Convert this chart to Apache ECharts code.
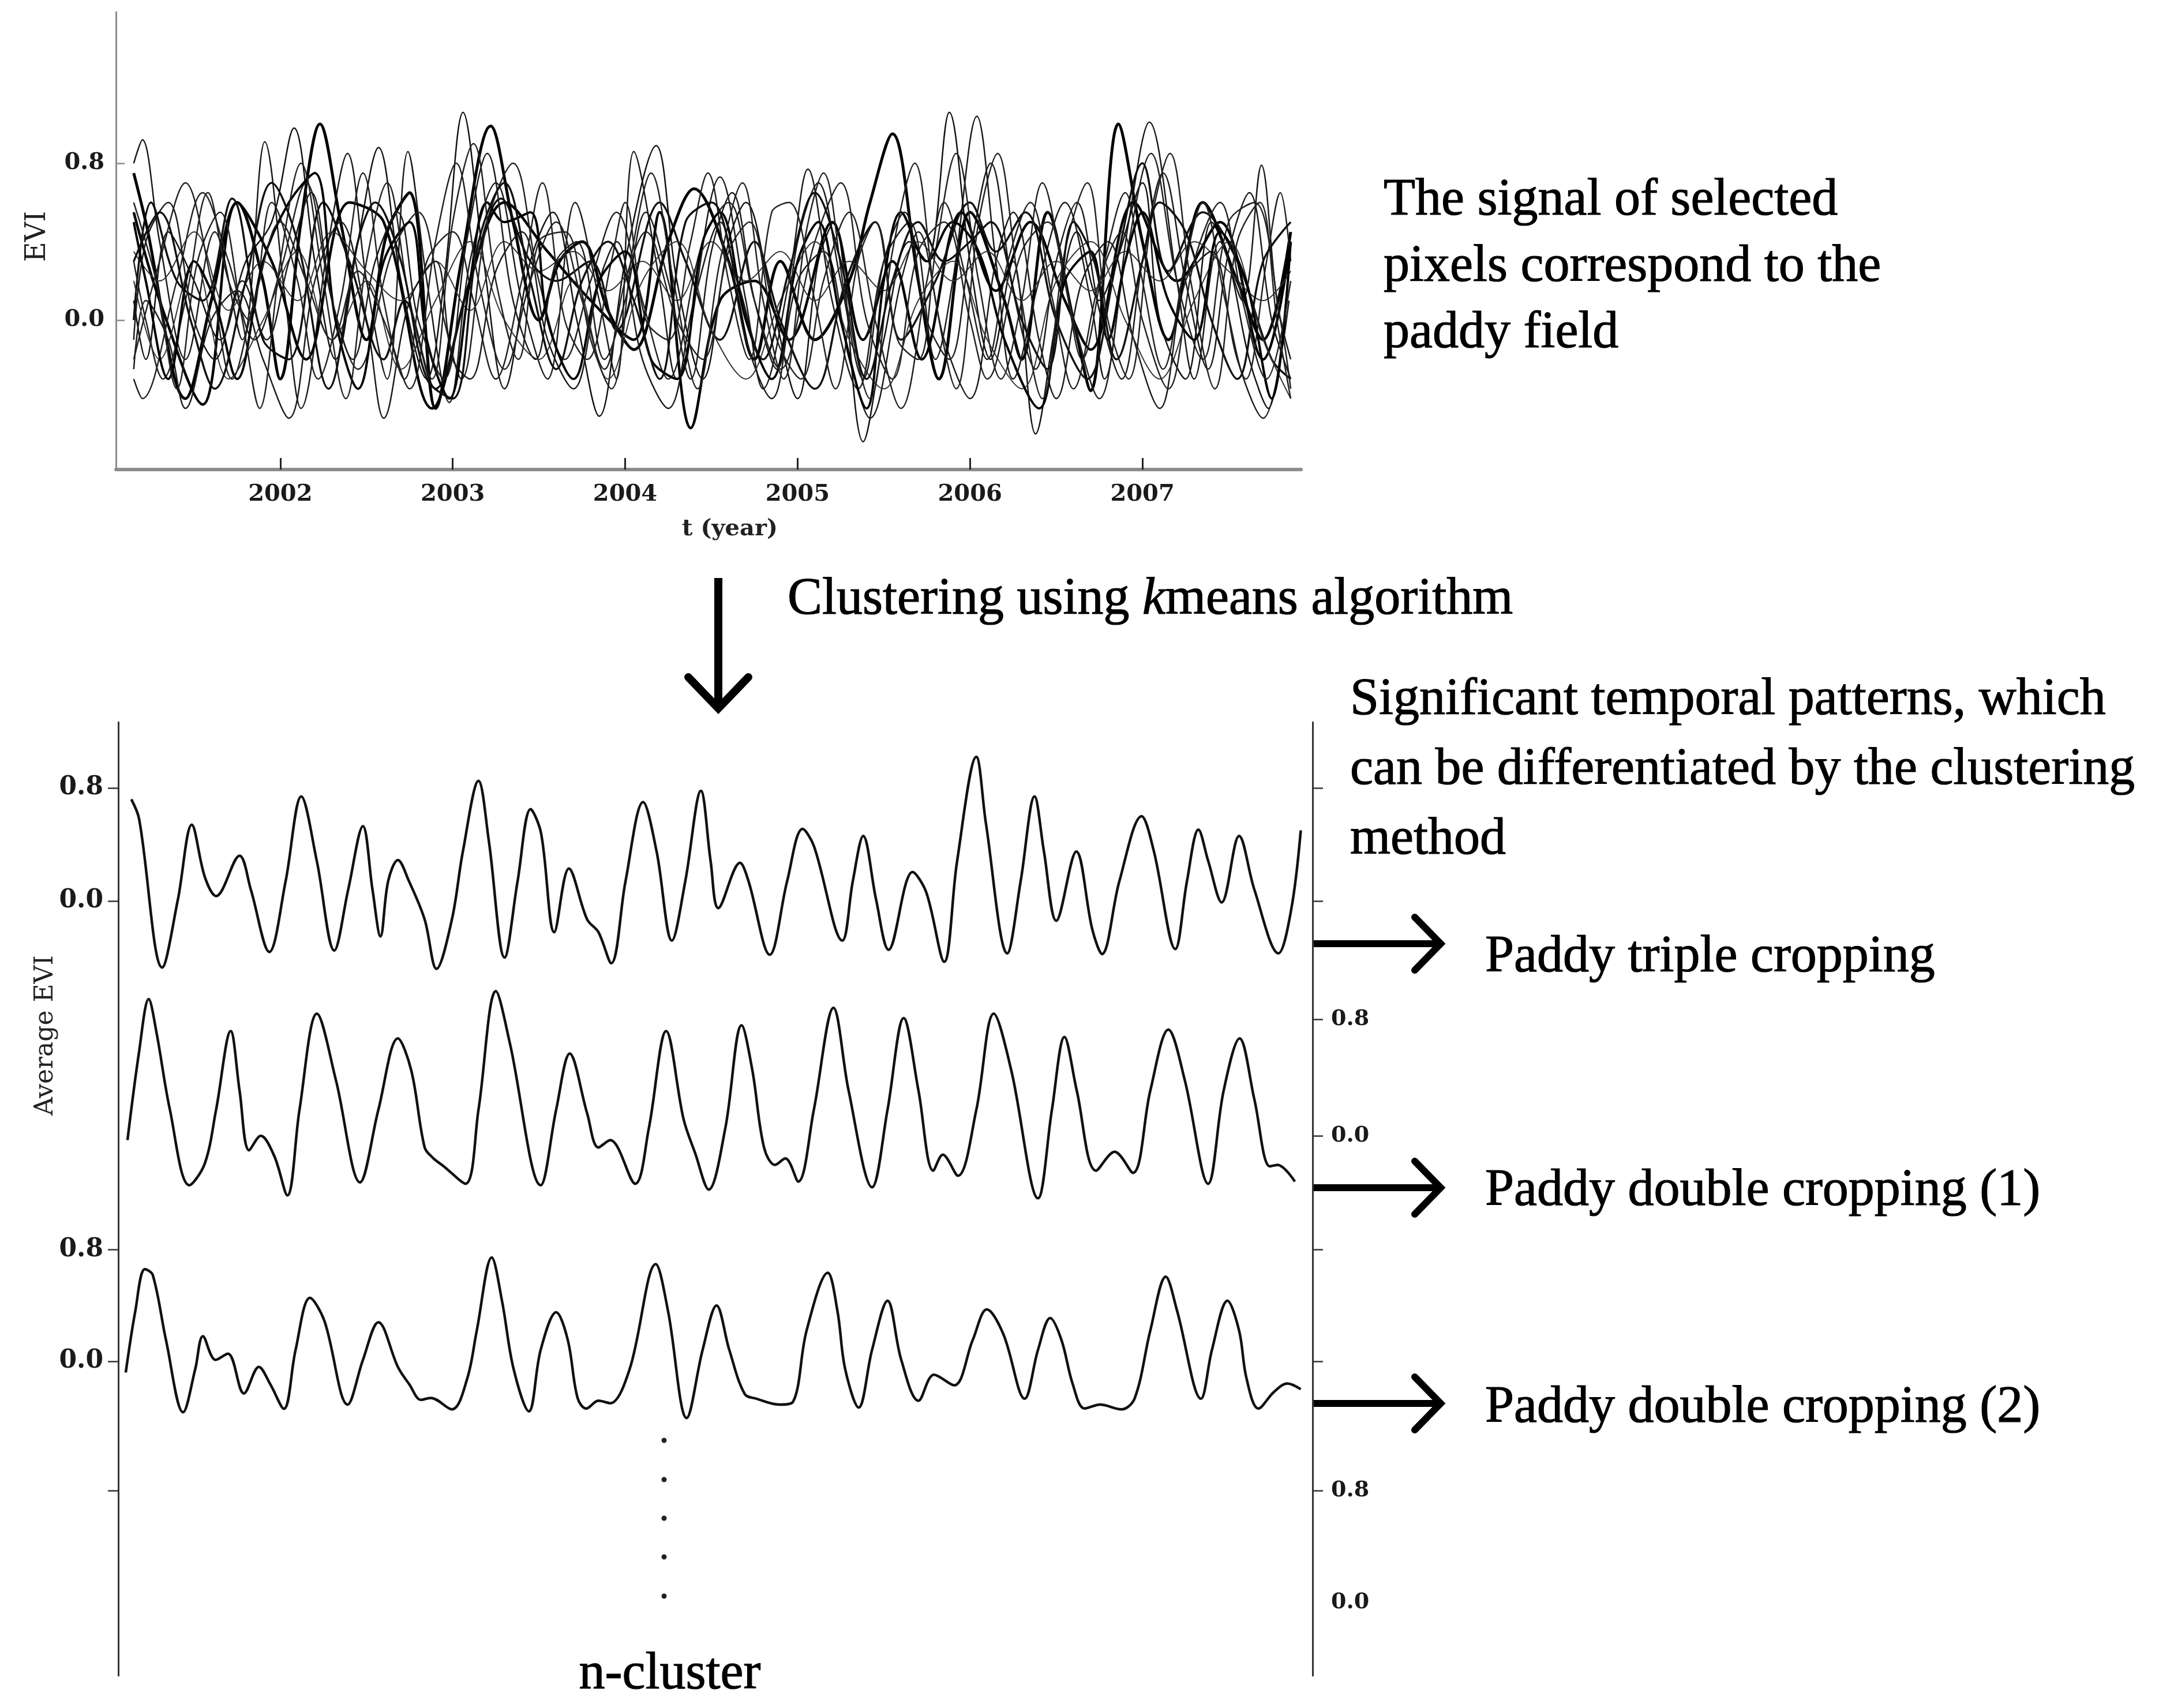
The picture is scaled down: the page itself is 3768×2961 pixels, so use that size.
<!DOCTYPE html>
<html>
<head>
<meta charset="utf-8">
<title>EVI signal and k-means clusters</title>
<script src="https://cdn.jsdelivr.net/npm/echarts@6/dist/echarts.min.js"></script>
<style>
  html, body { margin: 0; padding: 0; background: #fff; }
  #chart { width: 3768px; height: 2961px; }
</style>
</head>
<body>
<div id="chart"></div>
<script>
// tick values
var yearTicks = [2002, 2003, 2004, 2005, 2006, 2007];
var eviTicks = [0, 0.8];

// EVI signal of the selected paddy pixels, [year, EVI]
var pixelA = [[2001.15,0.75],[2001.22,0.5],[2001.45,-0.4],[2001.6,0.1],[2001.75,0.6],[2001.9,0.2],[2002.0,-0.3],[2002.12,0.5],[2002.23,1.0],[2002.35,0.5],[2002.5,-0.1],[2002.62,0.45],[2002.75,0.65],[2002.9,-0.45],[2003.05,0.3],[2003.22,0.99],[2003.35,0.5],[2003.5,0.0],[2003.62,0.3],[2003.75,0.4],[2003.9,0.05],[2004.05,-0.15],[2004.25,0.4],[2004.4,0.67],[2004.6,0.3],[2004.75,-0.2],[2004.9,0.3],[2005.1,-0.1],[2005.3,0.2],[2005.42,0.6],[2005.55,0.95],[2005.7,0.2],[2005.82,-0.3],[2006.0,0.55],[2006.2,0.1],[2006.3,-0.2],[2006.45,0.55],[2006.6,0.0],[2006.7,-0.36],[2006.86,1.0],[2007.0,0.4],[2007.15,-0.1],[2007.35,0.6],[2007.55,0.2],[2007.7,-0.1],[2007.86,0.45]];
var pixelB = [[2001.15,0.8],[2001.2,0.92],[2001.3,0.4],[2001.45,-0.2],[2001.62,0.45],[2001.78,-0.1],[2001.91,0.91],[2002.03,0.1],[2002.12,-0.45],[2002.28,0.4],[2002.39,0.85],[2002.5,0.2],[2002.62,-0.3],[2002.74,0.86],[2002.85,0.2],[2002.98,-0.42],[2003.1,0.3],[2003.25,0.7],[2003.4,0.1],[2003.55,-0.3],[2003.71,0.6],[2003.85,0.1],[2003.95,-0.3],[2004.05,0.86],[2004.2,0.2],[2004.3,-0.3],[2004.55,0.73],[2004.7,0.1],[2004.8,-0.35],[2004.95,0.2],[2005.06,0.77],[2005.2,0.1],[2005.35,-0.35],[2005.5,0.3],[2005.65,0.5],[2005.8,-0.2],[2005.9,0.2],[2006.04,1.04],[2006.15,0.3],[2006.25,-0.3],[2006.4,0.2],[2006.55,0.6],[2006.7,0.1],[2006.78,-0.3],[2006.92,0.5],[2007.04,1.01],[2007.2,0.2],[2007.3,-0.3],[2007.45,0.4],[2007.58,0.1],[2007.69,0.79],[2007.78,0.1],[2007.86,-0.2]];
var pixelC = [[2001.15,0.1],[2001.22,-0.2],[2001.35,0.45],[2001.5,0.2],[2001.65,-0.1],[2001.8,0.3],[2001.95,0.5],[2002.08,0.98],[2002.2,0.3],[2002.32,-0.2],[2002.45,0.4],[2002.57,0.88],[2002.7,0.2],[2002.85,-0.3],[2002.95,0.2],[2003.06,1.06],[2003.18,0.3],[2003.3,-0.35],[2003.45,0.3],[2003.58,0.55],[2003.72,0.0],[2003.85,-0.49],[2004.0,0.3],[2004.18,0.89],[2004.3,0.2],[2004.45,-0.3],[2004.6,0.4],[2004.7,0.6],[2004.85,0.1],[2005.0,-0.4],[2005.12,0.3],[2005.21,0.5],[2005.38,-0.62],[2005.5,-0.1],[2005.65,0.4],[2005.75,0.3],[2005.88,1.06],[2006.0,0.3],[2006.12,-0.2],[2006.25,0.3],[2006.38,-0.58],[2006.5,0.0],[2006.62,0.45],[2006.75,0.1],[2006.85,0.3],[2007.0,0.7],[2007.1,0.0],[2007.25,-0.3],[2007.4,0.5],[2007.5,0.3],[2007.62,-0.2],[2007.73,-0.45],[2007.85,0.3]];
var pixelD = [[2001.15,0.55],[2001.3,0.1],[2001.55,-0.43],[2001.75,0.6],[2001.95,0.3],[2002.15,-0.2],[2002.4,0.6],[2002.6,0.5],[2002.88,-0.45],[2003.1,0.2],[2003.3,0.6],[2003.55,0.35],[2003.8,0.1],[2004.05,-0.1],[2004.2,0.55],[2004.38,-0.55],[2004.55,0.1],[2004.75,0.2],[2004.95,-0.1],[2005.2,0.5],[2005.38,-0.1],[2005.55,0.3],[2005.72,-0.2],[2005.95,0.55],[2006.15,0.15],[2006.35,0.5],[2006.55,0.1],[2006.7,-0.15],[2006.95,0.6],[2007.2,0.2],[2007.45,0.5],[2007.7,-0.2],[2007.86,0.4]];
var pixelE = [[2001.15,-0.3],[2001.2,-0.4],[2001.4,0.2],[2001.55,0.65],[2001.7,0.3],[2001.85,-0.1],[2002.0,0.25],[2002.15,0.7],[2002.3,0.1],[2002.45,-0.25],[2002.65,0.35],[2002.8,0.55],[2002.95,0.0],[2003.05,-0.3],[2003.2,0.5],[2003.35,0.8],[2003.5,0.2],[2003.65,-0.2],[2003.8,0.2],[2003.95,0.55],[2004.1,0.1],[2004.25,-0.3],[2004.45,0.4],[2004.6,0.6],[2004.75,0.1],[2004.9,-0.25],[2005.1,0.4],[2005.25,0.7],[2005.4,0.0],[2005.55,-0.3],[2005.7,0.35],[2005.85,0.5],[2006.0,0.0],[2006.1,-0.3],[2006.3,0.35],[2006.45,0.5],[2006.6,0.0],[2006.75,-0.4],[2006.9,0.3],[2007.05,0.85],[2007.2,0.2],[2007.35,-0.2],[2007.5,0.5],[2007.65,0.6],[2007.8,0.0],[2007.86,-0.35]];
var pixelF = [[2001.15,0.35],[2001.3,0.2],[2001.5,0.45],[2001.7,0.05],[2001.9,0.3],[2002.1,0.1],[2002.3,0.45],[2002.5,0.25],[2002.7,0.1],[2002.9,0.3],[2003.1,0.05],[2003.3,0.4],[2003.5,0.25],[2003.7,0.35],[2003.9,0.15],[2004.1,0.3],[2004.3,0.1],[2004.5,0.4],[2004.7,0.2],[2004.9,0.35],[2005.1,0.1],[2005.3,0.3],[2005.5,0.15],[2005.7,0.4],[2005.9,0.2],[2006.1,0.35],[2006.3,0.1],[2006.5,0.3],[2006.7,0.15],[2006.9,0.35],[2007.1,0.2],[2007.3,0.4],[2007.5,0.25],[2007.7,0.1],[2007.86,0.25]];
var pixelG = [[2001.15,-0.25],[2001.22,0.1],[2001.35,-0.1],[2001.45,-0.45],[2001.6,0.0],[2001.75,0.15],[2001.9,-0.2],[2002.05,-0.5],[2002.2,0.2],[2002.35,0.5],[2002.5,0.0],[2002.6,-0.5],[2002.75,0.1],[2002.9,0.3],[2003.0,-0.2],[2003.1,-0.3],[2003.25,0.25],[2003.4,0.45],[2003.55,-0.1],[2003.7,-0.35],[2003.85,0.2],[2003.95,0.4],[2004.1,-0.2],[2004.25,-0.45],[2004.4,0.1],[2004.55,0.5],[2004.7,-0.1],[2004.85,-0.4],[2005.0,0.2],[2005.15,0.35],[2005.3,-0.2],[2005.42,-0.5],[2005.6,0.2],[2005.7,0.45],[2005.85,-0.1],[2006.0,-0.4],[2006.15,0.3],[2006.25,0.55],[2006.4,-0.1],[2006.5,-0.4],[2006.65,0.2],[2006.8,0.4],[2006.95,-0.1],[2007.1,-0.45],[2007.25,0.2],[2007.4,0.35],[2007.55,-0.2],[2007.7,-0.5],[2007.85,0.1]];
var pixelH = [[2001.15,0.0],[2001.25,0.6],[2001.4,0.2],[2001.55,0.1],[2001.72,0.62],[2001.9,-0.1],[2002.05,-0.2],[2002.25,0.6],[2002.4,0.3],[2002.6,-0.2],[2002.72,0.1],[2002.9,-0.35],[2003.1,0.2],[2003.28,0.62],[2003.45,0.3],[2003.6,0.2],[2003.8,0.3],[2003.95,-0.05],[2004.2,0.6],[2004.35,0.3],[2004.55,-0.1],[2004.75,0.4],[2004.9,0.0],[2005.1,-0.35],[2005.28,0.2],[2005.45,0.5],[2005.6,-0.1],[2005.8,0.2],[2006.0,0.6],[2006.15,0.35],[2006.32,0.55],[2006.5,0.0],[2006.68,-0.3],[2006.85,0.3],[2007.0,0.8],[2007.15,0.25],[2007.35,0.55],[2007.55,0.3],[2007.75,-0.2],[2007.86,-0.3]];
var pixelI = [[2001.15,0.3],[2001.22,0.0],[2001.32,-0.3],[2001.45,0.1],[2001.58,0.65],[2001.7,0.2],[2001.82,0.0],[2001.95,0.6],[2002.1,0.2],[2002.22,-0.3],[2002.35,0.1],[2002.48,0.75],[2002.6,0.1],[2002.72,-0.3],[2002.85,0.3],[2003.0,0.45],[2003.12,0.1],[2003.25,-0.3],[2003.4,0.2],[2003.52,0.7],[2003.65,0.0],[2003.78,-0.2],[2003.92,0.3],[2004.0,0.6],[2004.12,0.0],[2004.25,-0.1],[2004.38,0.4],[2004.48,0.75],[2004.6,0.2],[2004.72,-0.2],[2004.85,0.55],[2004.95,0.6],[2005.1,0.1],[2005.22,-0.35],[2005.35,0.3],[2005.45,0.5],[2005.58,-0.1],[2005.7,-0.2],[2005.8,0.35],[2005.92,0.85],[2006.05,0.2],[2006.18,-0.3],[2006.3,0.1],[2006.42,0.7],[2006.55,0.2],[2006.65,-0.2],[2006.78,0.3],[2006.9,0.65],[2007.0,0.2],[2007.12,-0.25],[2007.25,0.3],[2007.35,0.6],[2007.48,0.1],[2007.6,-0.3],[2007.72,0.3],[2007.8,0.65],[2007.86,0.3]];
var pixelJ = [[2001.15,0.2],[2001.3,-0.2],[2001.5,0.3],[2001.7,-0.3],[2001.9,0.0],[2002.1,0.35],[2002.3,-0.1],[2002.5,0.2],[2002.7,-0.25],[2002.9,0.1],[2003.1,0.4],[2003.3,0.0],[2003.5,-0.2],[2003.7,0.2],[2003.9,-0.3],[2004.1,0.2],[2004.3,0.4],[2004.5,-0.05],[2004.7,-0.3],[2004.9,0.1],[2005.1,0.4],[2005.3,-0.1],[2005.5,-0.35],[2005.7,0.1],[2005.9,0.3],[2006.1,-0.1],[2006.3,-0.35],[2006.5,0.2],[2006.7,0.4],[2006.9,0.0],[2007.1,-0.3],[2007.3,0.1],[2007.5,0.4],[2007.7,-0.1],[2007.86,-0.4]];
var pixelK = [[2001.15,0.5],[2001.22,0.2],[2001.35,-0.3],[2001.5,0.3],[2001.62,0.1],[2001.75,-0.3],[2001.9,0.3],[2002.05,0.6],[2002.2,0.75],[2002.32,0.0],[2002.45,-0.35],[2002.6,0.3],[2002.75,0.5],[2002.85,-0.1],[2002.98,-0.4],[2003.1,0.2],[2003.2,0.6],[2003.3,0.5],[2003.45,0.55],[2003.55,0.0],[2003.7,-0.3],[2003.85,0.2],[2004.0,0.35],[2004.15,-0.2],[2004.3,-0.3],[2004.45,0.4],[2004.55,0.55],[2004.7,0.0],[2004.85,-0.3],[2005.0,0.3],[2005.12,0.5],[2005.25,0.0],[2005.4,-0.45],[2005.5,0.2],[2005.6,0.55],[2005.75,0.3],[2005.9,0.5],[2006.05,0.35],[2006.2,-0.1],[2006.4,-0.45],[2006.55,0.2],[2006.7,0.35],[2006.8,-0.1],[2006.9,0.3],[2007.0,0.55],[2007.15,0.1],[2007.3,-0.1],[2007.45,0.45],[2007.6,0.2],[2007.75,-0.4],[2007.86,0.4]];
var pixelL = [[2001.15,-0.1],[2001.22,0.4],[2001.35,0.6],[2001.5,0.0],[2001.62,-0.2],[2001.78,0.2],[2001.92,-0.1],[2002.05,0.3],[2002.18,0.65],[2002.3,0.1],[2002.42,-0.2],[2002.55,0.3],[2002.68,0.55],[2002.8,0.0],[2002.95,-0.3],[2003.08,0.4],[2003.2,0.85],[2003.35,0.1],[2003.48,-0.2],[2003.6,0.3],[2003.72,0.4],[2003.88,-0.2],[2004.0,0.1],[2004.12,0.55],[2004.25,0.2],[2004.38,-0.3],[2004.5,0.35],[2004.62,0.65],[2004.75,0.1],[2004.88,-0.25],[2005.0,0.4],[2005.12,0.7],[2005.25,0.2],[2005.38,-0.3],[2005.5,0.3],[2005.62,0.55],[2005.75,0.0],[2005.88,-0.2],[2006.0,0.35],[2006.12,0.8],[2006.25,0.15],[2006.38,-0.25],[2006.5,0.3],[2006.62,0.6],[2006.75,0.05],[2006.88,-0.3],[2007.0,0.3],[2007.12,0.75],[2007.25,0.2],[2007.38,-0.25],[2007.5,0.35],[2007.62,0.65],[2007.75,0.0],[2007.86,-0.3]];
var pixelM = [[2001.15,0.6],[2001.28,0.2],[2001.4,-0.35],[2001.52,0.3],[2001.65,0.55],[2001.78,0.0],[2001.88,-0.45],[2002.0,0.3],[2002.12,0.8],[2002.25,0.2],[2002.38,-0.4],[2002.5,0.3],[2002.62,0.7],[2002.75,0.1],[2002.88,-0.3],[2003.0,0.5],[2003.12,0.9],[2003.25,0.2],[2003.38,-0.2],[2003.5,0.4],[2003.65,0.45],[2003.8,-0.1],[2003.92,-0.35],[2004.05,0.4],[2004.15,0.75],[2004.28,0.2],[2004.42,-0.35],[2004.55,0.3],[2004.68,0.7],[2004.8,0.1],[2004.92,-0.3],[2005.05,0.45],[2005.15,0.75],[2005.28,0.1],[2005.42,-0.4],[2005.55,0.35],[2005.68,0.8],[2005.8,0.1],[2005.92,-0.35],[2006.05,0.5],[2006.16,0.85],[2006.28,0.2],[2006.42,-0.4],[2006.55,0.35],[2006.68,0.7],[2006.8,0.0],[2006.92,-0.3],[2007.05,0.5],[2007.16,0.85],[2007.28,0.2],[2007.42,-0.35],[2007.55,0.4],[2007.68,0.6],[2007.78,0.0],[2007.86,-0.4]];
var pixelN = [[2001.15,0.3],[2001.3,0.55],[2001.48,0.0],[2001.62,-0.35],[2001.8,0.2],[2001.95,0.7],[2002.1,0.4],[2002.28,-0.35],[2002.45,0.4],[2002.55,0.6],[2002.7,0.3],[2002.85,-0.3],[2003.0,-0.4],[2003.15,0.4],[2003.3,0.7],[2003.45,0.2],[2003.6,-0.25],[2003.75,0.2],[2003.9,0.4],[2004.05,0.1],[2004.2,-0.3],[2004.35,0.5],[2004.5,0.6],[2004.65,0.2],[2004.8,-0.2],[2004.95,0.25],[2005.1,0.65],[2005.25,0.3],[2005.4,-0.3],[2005.55,0.2],[2005.7,0.5],[2005.85,0.3],[2006.0,0.4],[2006.12,0.5],[2006.3,0.0],[2006.45,-0.25],[2006.6,0.5],[2006.72,0.3],[2006.85,-0.2],[2007.0,0.3],[2007.1,0.6],[2007.25,0.45],[2007.4,0.0],[2007.55,-0.3],[2007.7,0.3],[2007.86,0.5]];
var pixelO = [[2001.15,-0.2],[2001.3,0.3],[2001.45,0.7],[2001.6,0.2],[2001.72,-0.3],[2001.85,0.1],[2002.0,0.5],[2002.15,0.2],[2002.3,-0.1],[2002.45,0.25],[2002.6,0.0],[2002.75,-0.35],[2002.9,0.4],[2003.02,0.8],[2003.15,0.2],[2003.3,-0.25],[2003.45,0.2],[2003.6,0.5],[2003.75,0.1],[2003.88,-0.25],[2004.0,0.2],[2004.12,0.45],[2004.3,0.0],[2004.45,-0.2],[2004.6,0.35],[2004.72,0.5],[2004.88,-0.1],[2005.02,-0.3],[2005.15,0.2],[2005.3,0.55],[2005.45,0.0],[2005.6,-0.45],[2005.75,0.2],[2005.85,0.6],[2005.98,0.2],[2006.1,-0.2],[2006.22,0.3],[2006.35,0.6],[2006.48,0.1],[2006.6,-0.35],[2006.75,0.2],[2006.88,0.45],[2007.0,0.0],[2007.15,-0.35],[2007.3,0.3],[2007.45,0.6],[2007.58,0.1],[2007.72,-0.3],[2007.86,0.2]];

// average EVI of each cluster, [year, EVI]
var tripleCropping = [[2001.122,0.72],[2001.167,0.58],[2001.30,-0.47],[2001.39,0.01],[2001.47,0.54],[2001.545,0.17],[2001.61,0.035],[2001.745,0.32],[2001.81,0.08],[2001.916,-0.36],[2002.01,0.14],[2002.10,0.74],[2002.19,0.28],[2002.29,-0.35],[2002.37,0.08],[2002.455,0.53],[2002.51,0.08],[2002.556,-0.25],[2002.60,0.14],[2002.656,0.29],[2002.72,0.14],[2002.81,-0.13],[2002.878,-0.48],[2002.967,-0.13],[2003.03,0.35],[2003.12,0.85],[2003.18,0.42],[2003.27,-0.40],[2003.345,0.14],[2003.42,0.65],[2003.48,0.48],[2003.556,-0.22],[2003.64,0.23],[2003.745,-0.13],[2003.81,-0.22],[2003.884,-0.44],[2003.966,0.14],[2004.067,0.70],[2004.145,0.35],[2004.233,-0.28],[2004.31,0.14],[2004.40,0.78],[2004.456,0.28],[2004.50,-0.05],[2004.625,0.27],[2004.674,0.14],[2004.796,-0.38],[2004.896,0.14],[2004.985,0.51],[2005.05,0.39],[2005.214,-0.28],[2005.274,0.14],[2005.334,0.46],[2005.408,0.01],[2005.48,-0.345],[2005.618,0.205],[2005.697,0.06],[2005.80,-0.43],[2005.874,0.28],[2005.985,1.02],[2006.04,0.55],[2006.163,-0.37],[2006.24,0.14],[2006.32,0.74],[2006.374,0.35],[2006.445,-0.14],[2006.56,0.35],[2006.652,-0.20],[2006.708,-0.375],[2006.808,0.14],[2006.936,0.60],[2007.007,0.35],[2007.13,-0.34],[2007.197,0.14],[2007.263,0.505],[2007.32,0.28],[2007.397,-0.01],[2007.497,0.46],[2007.585,0.08],[2007.723,-0.37],[2007.797,-0.06],[2007.852,0.50]];
var doubleCropping1 = [[2001.10,-0.03],[2001.167,0.58],[2001.222,0.94],[2001.267,0.71],[2001.344,0.18],[2001.456,-0.34],[2001.545,-0.19],[2001.61,0.18],[2001.694,0.72],[2001.745,0.31],[2001.80,-0.10],[2001.867,0.0],[2001.945,-0.14],[2002.02,-0.41],[2002.09,0.18],[2002.19,0.84],[2002.30,0.38],[2002.438,-0.32],[2002.544,0.18],[2002.656,0.67],[2002.733,0.45],[2002.81,-0.08],[2002.856,-0.15],[2002.92,-0.21],[2003.045,-0.33],[2003.12,0.18],[2003.22,0.995],[2003.30,0.64],[2003.478,-0.34],[2003.567,0.18],[2003.645,0.565],[2003.745,0.155],[2003.81,-0.08],[2003.878,-0.03],[2004.022,-0.33],[2004.10,0.05],[2004.20,0.72],[2004.30,0.115],[2004.367,-0.12],[2004.445,-0.37],[2004.54,0.05],[2004.634,0.76],[2004.696,0.45],[2004.763,-0.08],[2004.826,-0.20],[2004.886,-0.156],[2004.96,-0.315],[2005.05,0.18],[2005.163,0.88],[2005.25,0.31],[2005.385,-0.354],[2005.474,0.18],[2005.567,0.81],[2005.652,0.31],[2005.737,-0.24],[2005.792,-0.13],[2005.879,-0.275],[2005.985,0.18],[2006.085,0.84],[2006.186,0.45],[2006.34,-0.43],[2006.42,0.18],[2006.492,0.68],[2006.563,0.31],[2006.674,-0.24],[2006.781,-0.11],[2006.886,-0.255],[2006.986,0.31],[2007.09,0.73],[2007.185,0.38],[2007.319,-0.33],[2007.408,0.31],[2007.50,0.67],[2007.585,0.25],[2007.674,-0.21],[2007.718,-0.20],[2007.818,-0.315]];
var doubleCropping2 = [[2001.09,-0.08],[2001.145,0.36],[2001.20,0.66],[2001.245,0.62],[2001.322,0.15],[2001.42,-0.365],[2001.49,-0.055],[2001.534,0.18],[2001.607,0.01],[2001.678,0.055],[2001.77,-0.23],[2001.856,-0.04],[2001.922,-0.165],[2002.0,-0.34],[2002.067,0.08],[2002.15,0.455],[2002.233,0.29],[2002.367,-0.31],[2002.455,0.01],[2002.544,0.28],[2002.656,-0.04],[2002.722,-0.165],[2002.789,-0.276],[2002.845,-0.262],[2002.967,-0.344],[2003.055,-0.124],[2003.11,0.22],[2003.196,0.744],[2003.256,0.427],[2003.322,-0.055],[2003.41,-0.358],[2003.478,0.083],[2003.567,0.351],[2003.634,0.152],[2003.69,-0.262],[2003.74,-0.338],[2003.81,-0.282],[2003.878,-0.30],[2003.99,-0.055],[2004.14,0.696],[2004.211,0.358],[2004.318,-0.406],[2004.41,0.083],[2004.49,0.40],[2004.563,0.083],[2004.652,-0.234],[2004.72,-0.268],[2004.852,-0.31],[2004.93,-0.29],[2005.008,0.22],[2005.13,0.634],[2005.186,0.358],[2005.23,-0.055],[2005.308,-0.331],[2005.385,0.083],[2005.474,0.434],[2005.552,0.014],[2005.652,-0.282],[2005.741,-0.096],[2005.857,-0.172],[2005.964,0.152],[2006.045,0.372],[2006.141,0.193],[2006.263,-0.268],[2006.34,0.083],[2006.41,0.31],[2006.475,0.152],[2006.54,-0.165],[2006.608,-0.338],[2006.697,-0.31],[2006.82,-0.344],[2006.897,-0.262],[2006.986,0.22],[2007.075,0.606],[2007.141,0.358],[2007.278,-0.268],[2007.341,0.083],[2007.43,0.434],[2007.497,0.22],[2007.54,-0.124],[2007.608,-0.338],[2007.697,-0.22],[2007.775,-0.159],[2007.852,-0.20]];

var pixelSeries = [pixelA, pixelB, pixelC, pixelD, pixelE, pixelF, pixelG, pixelH, pixelI, pixelJ, pixelK, pixelL, pixelM, pixelN, pixelO];
// pen for each pixel line
var pixelPens = [
    {w: 5, c: '#000'}, {w: 2.5, c: '#1a1a1a'}, {w: 2.5, c: '#111'}, {w: 4.5, c: '#000'},
    {w: 2.5, c: '#222'}, {w: 2, c: '#333'}, {w: 2.5, c: '#1a1a1a'}, {w: 3.5, c: '#111'},
    {w: 2.5, c: '#222'}, {w: 2, c: '#333'}, {w: 4, c: '#000'}, {w: 2.5, c: '#1a1a1a'},
    {w: 2.5, c: '#222'}, {w: 3.5, c: '#111'}, {w: 2.5, c: '#222'}
];

var tickFont = '"DejaVu Serif", serif';
var textFont = '"Liberation Serif", "Times New Roman", serif';
var xMin = 2001.047, xMax = 2007.92;

function hiddenX(grid) {
    return {type: 'value', gridIndex: grid, min: xMin, max: xMax, show: false};
}

// y axis of one cluster panel: ticks / labels only, the frame draws the line
function panelY(grid, pos, min, max, ticks, labels) {
    return {
        type: 'value', gridIndex: grid, position: pos, min: min, max: max,
        axisLine: {show: false},
        splitLine: {show: false},
        axisTick: {show: ticks.length > 0, customValues: ticks, length: 18, lineStyle: {color: '#333', width: 2.5}},
        axisLabel: {
            show: labels.length > 0, customValues: labels, margin: pos === 'left' ? 26 : 32,
            fontFamily: tickFont, fontWeight: 'bold', fontSize: pos === 'left' ? 44 : 38, color: '#1a1a1a',
            formatter: function (v) { return v.toFixed(1); }
        }
    };
}

function clusterLine(data, xi, yi) {
    return {
        type: 'line', xAxisIndex: xi, yAxisIndex: yi, data: data,
        showSymbol: false, smooth: 0.35, silent: true,
        lineStyle: {color: '#111', width: 4.5}
    };
}

var series = pixelSeries.map(function (d, i) {
    return {
        type: 'line', xAxisIndex: 0, yAxisIndex: 0, data: d,
        showSymbol: false, smooth: 0.35, silent: true,
        lineStyle: {color: pixelPens[i].c, width: pixelPens[i].w}
    };
});
series.push(clusterLine(tripleCropping, 1, 1));
series.push(clusterLine(doubleCropping1, 2, 3));
series.push(clusterLine(doubleCropping2, 3, 5));

// body text, with a thin stroke so it reads as heavy as the scanned figure
function txt(x, y, text, size, extra) {
    var st = {text: text, x: 0, y: 0, fontFamily: textFont, fontSize: size, fill: '#000',
        stroke: '#000', lineWidth: 1.2, align: 'left', verticalAlign: 'middle'};
    for (var k in extra) { st[k] = extra[k]; }
    return {type: 'text', x: x, y: y, style: st, silent: true};
}

function arrowRight(y) {
    return [
        {type: 'line', shape: {x1: 2274, y1: y, x2: 2494, y2: y}, style: {stroke: '#000', lineWidth: 12}},
        {type: 'polyline', shape: {points: [[2452, y - 46], [2497, y], [2452, y + 46]]},
            style: {stroke: '#000', lineWidth: 12, fill: null, lineCap: 'round'}}
    ];
}

var graphic = [
    txt(2398, 348, 'The signal of selected\npixels correspond to the\npaddy field', 90, {lineHeight: 115, verticalAlign: 'top', y: -57}),
    txt(1365, 1040, 'Clustering using {k|k}means algorithm', 90, {
        rich: {k: {fontFamily: textFont, fontSize: 90, fontStyle: 'italic', fill: '#000', stroke: '#000', lineWidth: 1.2}}
    }),
    txt(2340, 1214, 'Significant temporal patterns, which\ncan be differentiated by the clustering\nmethod', 90, {lineHeight: 121, verticalAlign: 'top', y: -60}),
    txt(2574, 1660, 'Paddy triple cropping', 90),
    txt(2574, 2065, 'Paddy double cropping (1)', 90),
    txt(2574, 2441, 'Paddy double cropping (2)', 90),
    txt(1161, 2903, 'n-cluster', 90, {align: 'center'}),
    {type: 'text', x: 66, y: 410, rotation: Math.PI / 2, silent: true,
        style: {text: 'EVI', fontFamily: tickFont, fontSize: 48, fill: '#222', align: 'center', verticalAlign: 'middle'}},
    {type: 'text', x: 80, y: 1795, rotation: Math.PI / 2, silent: true,
        style: {text: 'Average EVI', fontFamily: tickFont, fontSize: 44, fill: '#222', align: 'center', verticalAlign: 'middle'}},
    {type: 'text', x: 1265, y: 918, silent: true,
        style: {text: 't (year)', fontFamily: tickFont, fontWeight: 'bold', fontSize: 40, fill: '#222', align: 'center', verticalAlign: 'middle'}},
    // down arrow
    {type: 'line', shape: {x1: 1245, y1: 1002, x2: 1245, y2: 1224}, style: {stroke: '#000', lineWidth: 14}},
    {type: 'polyline', shape: {points: [[1193, 1174], [1245, 1228], [1297, 1174]]},
        style: {stroke: '#000', lineWidth: 14, fill: null, lineCap: 'round'}}
];
graphic = graphic.concat(arrowRight(1636), arrowRight(2059), arrowRight(2433));
[2497, 2565, 2632, 2699, 2767].forEach(function (y) {
    graphic.push({type: 'circle', shape: {cx: 1151, cy: y, r: 4.5}, style: {fill: '#222'}, silent: true});
});

var option = {
    backgroundColor: '#fff',
    animation: false,
    grid: [
        {left: 201, top: 21, width: 2054, height: 793, outerBoundsMode: 'none'},
        {left: 205, top: 1280.25, width: 2070, height: 428.75, outerBoundsMode: 'none'},
        {left: 205, top: 1691.8, width: 2070, height: 415.8, outerBoundsMode: 'none'},
        {left: 205, top: 2130.1, width: 2070, height: 350.9, outerBoundsMode: 'none'},
        {left: 205, top: 2535.5, width: 2070, height: 339.5, outerBoundsMode: 'none'},
        {left: 205, top: 1252, width: 2070, height: 1653, outerBoundsMode: 'none'}
    ],
    xAxis: [
        {
            type: 'value', gridIndex: 0, min: xMin, max: xMax,
            axisLine: {onZero: false, lineStyle: {color: '#8c8c8c', width: 6}},
            splitLine: {show: false},
            axisTick: {inside: true, customValues: yearTicks, length: 20, lineStyle: {color: '#222', width: 3}},
            axisLabel: {customValues: yearTicks, margin: 24, fontFamily: tickFont, fontWeight: 'bold', fontSize: 40, color: '#1a1a1a',
                formatter: function (v) { return String(Math.round(v)); }}
        },
        hiddenX(1), hiddenX(2), hiddenX(3), hiddenX(4), hiddenX(5)
    ],
    yAxis: [
        {
            type: 'value', gridIndex: 0, min: -0.762, max: 1.571,
            axisLine: {show: true, onZero: false, lineStyle: {color: '#8c8c8c', width: 3}},
            splitLine: {show: false},
            axisTick: {inside: true, customValues: eviTicks, length: 15, lineStyle: {color: '#8c8c8c', width: 2.5}},
            axisLabel: {customValues: eviTicks, margin: 20, fontFamily: tickFont, fontWeight: 'bold', fontSize: 40, color: '#1a1a1a',
                formatter: function (v) { return v.toFixed(1); }}
        },
        panelY(1, 'left', -0.6, 1.15, eviTicks, eviTicks),
        panelY(1, 'right', -0.6, 1.15, eviTicks, []),
        panelY(2, 'left', -0.55, 1.1, [], []),
        panelY(2, 'right', -0.55, 1.1, eviTicks, eviTicks),
        panelY(3, 'left', -0.5, 0.95, eviTicks, eviTicks),
        panelY(3, 'right', -0.5, 0.95, eviTicks, []),
        panelY(4, 'left', -0.4, 1.0, [0.8], []),
        panelY(4, 'right', -0.4, 1.0, [0.8], eviTicks),
        {type: 'value', gridIndex: 5, position: 'left', min: 0, max: 1, axisLine: {show: true, lineStyle: {color: '#333', width: 3}},
            axisTick: {show: false}, axisLabel: {show: false}, splitLine: {show: false}},
        {type: 'value', gridIndex: 5, position: 'right', min: 0, max: 1, axisLine: {show: true, lineStyle: {color: '#333', width: 3}},
            axisTick: {show: false}, axisLabel: {show: false}, splitLine: {show: false}}
    ],
    series: series,
    graphic: graphic
};

var chart = echarts.init(document.getElementById('chart'));
chart.setOption(option);
</script>
</body>
</html>
